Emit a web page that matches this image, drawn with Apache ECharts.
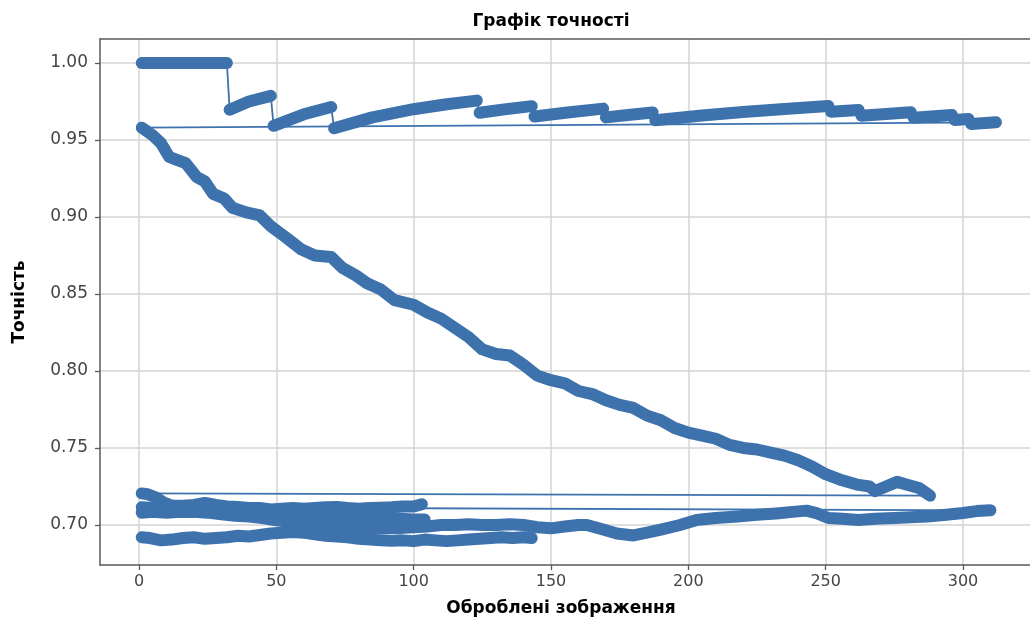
<!DOCTYPE html>
<html><head><meta charset="utf-8">
<script src="https://cdn.jsdelivr.net/npm/echarts@6/dist/echarts.min.js"></script>
<style>html,body{margin:0;padding:0;background:#fff}#c{width:1030px;height:617px}</style>
</head><body><div id="c"></div>
<script>
// ---- tick labels ----
const xTicks = [0, 50, 100, 150, 200, 250, 300];
const yTicks = [0.70, 0.75, 0.80, 0.85, 0.90, 0.95, 1.00];

// ---- run A (top sawtooth), split where it drops ----
const runA = [
  [[1,1.0],[32,1.0]],
  [[33,0.9697],[40,0.9750],[48,0.9787]],
  [[49,0.9592],[60,0.9667],[70,0.9714]],
  [[71,0.9577],[85,0.9647],[100,0.9700],[112,0.9732],[123,0.9756]],
  [[124,0.9677],[133,0.9699],[143,0.9720]],
  [[144,0.9653],[156,0.9679],[169,0.9704]],
  [[170,0.9647],[178,0.9663],[187,0.9679]],
  [[188,0.9628],[205,0.9659],[220,0.9682],[235,0.9702],[251,0.9721]],
  [[252,0.9683],[262,0.9695]],
  [[263,0.9658],[272,0.9669],[281,0.9680]],
  [[282,0.9645],[296,0.9662]],
  [[297,0.9630],[302,0.9636]],
  [[303,0.9604],[312,0.9615]]
];

// ---- run B (long decline) ----
const runB = [
  [1,0.958],[5,0.953],[8,0.948],[11,0.939],[14,0.937],[17,0.935],[21,0.926],[24,0.923],
  [27,0.915],[31,0.912],[34,0.906],[39,0.903],[44,0.901],[48,0.894],[54,0.886],[59,0.879],
  [64,0.875],[70,0.874],[74,0.867],[79,0.862],[83,0.857],[88,0.853],[93,0.846],[100,0.843],
  [105,0.838],[110,0.834],[115,0.828],[120,0.822],[125,0.814],[130,0.811],[135,0.810],
  [140,0.804],[145,0.797],[150,0.794],[155,0.792],[160,0.787],[165,0.785],[170,0.781],
  [175,0.778],[180,0.776],[185,0.771],[190,0.768],[195,0.763],[200,0.760],[205,0.758],
  [210,0.756],[215,0.752],[220,0.750],[225,0.749],[230,0.747],[235,0.745],[240,0.742],
  [245,0.738],[250,0.733],[256,0.729],[262,0.726],[266,0.725],[268,0.722],[272,0.725],
  [276,0.728],[280,0.726],[284,0.724],[288,0.719]
];

// ---- lower runs ----
const runP = [
  [1,0.7205],[3,0.720],[6,0.718],[9,0.7145],[12,0.7125],[16,0.7125],[20,0.713],[24,0.7143],
  [28,0.713],[32,0.712],[36,0.7117],[40,0.711],[44,0.711],[48,0.710],[52,0.7105],[56,0.711],
  [60,0.7105],[64,0.711],[68,0.7115],[72,0.7117],[76,0.711],[80,0.7105],[84,0.711],
  [88,0.7112],[92,0.7115],[96,0.712],[100,0.712],[103,0.7135]
];
const runS = [
  [1,0.7115],[5,0.711],[10,0.7105],[15,0.711],[20,0.7105],[25,0.710],[30,0.709],[35,0.708],
  [40,0.7075],[45,0.707],[50,0.7065],[55,0.706],[60,0.705],[65,0.7045],[70,0.705],[75,0.7045],
  [80,0.704],[85,0.7045],[90,0.7045],[95,0.704],[100,0.7035],[104,0.7035]
];
const runQ = [
  [1,0.708],[5,0.7085],[10,0.708],[15,0.7085],[20,0.7085],[25,0.708],[30,0.707],[35,0.706],
  [40,0.7055],[45,0.7045],[50,0.703],[55,0.702],[60,0.7005],[65,0.700],[70,0.699],[75,0.698],
  [80,0.698],[85,0.6975],[90,0.698],[95,0.698],[100,0.6985],[105,0.699],[110,0.700],
  [115,0.700],[120,0.7005],[125,0.700],[130,0.700],[135,0.7005],[140,0.700],[145,0.6985],
  [150,0.6978],[155,0.699],[160,0.700],[163,0.700],[168,0.6975],[174,0.6945],[180,0.6932],
  [185,0.695],[190,0.697],[197,0.700],[203,0.7032],[210,0.7045],[218,0.7055],[225,0.7066],
  [232,0.7075],[238,0.7085],[243,0.7093],[247,0.7075],[251,0.7045],[256,0.704],[262,0.7032],
  [268,0.704],[275,0.7045],[281,0.705],[287,0.7055],[293,0.7065],[300,0.7078],[305,0.709],
  [310,0.7095]
];
const runR = [
  [1,0.692],[4,0.6915],[8,0.690],[12,0.6905],[16,0.6915],[20,0.692],[24,0.691],[28,0.6915],
  [32,0.692],[36,0.693],[40,0.6925],[44,0.6935],[48,0.6945],[52,0.695],[56,0.6955],[60,0.695],
  [64,0.694],[68,0.693],[72,0.6925],[76,0.692],[80,0.691],[84,0.6905],[88,0.690],[92,0.6898],
  [96,0.690],[100,0.6895],[104,0.6905],[108,0.690],[112,0.6895],[116,0.690],[120,0.6905],
  [124,0.691],[128,0.6915],[132,0.692],[136,0.6915],[140,0.692],[143,0.6915]
];

// ---- thin connecting lines between runs ----
const connectors = [
  [[312,0.9615],[1,0.958]],
  [[288,0.719],[1,0.7205]],
  [[310,0.7095],[1,0.7115]]
];

const COLOR = '#3d72ad';
const series = [];
function thin(data){ series.push({type:'line', data, symbol:'none', silent:true, animation:false,
  lineStyle:{color:COLOR, width:1.8}, z:2}); }
function thick(data){ series.push({type:'line', data, symbol:'none', silent:true, animation:false,
  lineStyle:{color:COLOR, width:12, cap:'round', join:'round'}, z:3}); }

connectors.forEach(thin);
for (let i = 0; i + 1 < runA.length; i++) {
  const a = runA[i][runA[i].length - 1], b = runA[i + 1][0];
  thin([a, b]);
}
runA.forEach(thick);
[runB, runP, runS, runQ, runR].forEach(thick);

const font = "'DejaVu Sans', sans-serif";
const chart = echarts.init(document.getElementById('c'), null, {renderer:'canvas'});
chart.setOption({
  animation: false,
  title: [
    {text:'Графік точності', left:546, top:8, textAlign:'center',
     textStyle:{fontFamily:font, fontWeight:'bold', fontSize:17, color:'#000'}},
    {text:'Оброблені зображення', left:556, top:595, textAlign:'center',
     textStyle:{fontFamily:font, fontWeight:'bold', fontSize:17, color:'#000'}}
  ],
  grid: {left:100, top:39, right:0, bottom:52, containLabel:false},
  xAxis: [{
    type:'value', min:-14.2, max:324.4, splitNumber:7,
    axisLine:{show:true, onZero:false, lineStyle:{color:'#5a5a5a', width:1.5}},
    axisTick:{show:true, length:5, inside:false, customValues:xTicks, lineStyle:{color:'#5a5a5a', width:1.3}},
    axisLabel:{customValues:xTicks, margin:9,
      fontFamily:font, fontSize:16, color:'#444'},
    splitLine:{show:true, lineStyle:{color:'#d4d4d4', width:1.5}}
  },{
    type:'value', position:'top', min:-14.2, max:324.4,
    axisLine:{show:true, onZero:false, lineStyle:{color:'#5a5a5a', width:1.5}},
    axisTick:{show:false}, axisLabel:{show:false}, splitLine:{show:false}
  }],
  yAxis: {
    type:'value', min:0.674, max:1.0156, splitNumber:7,
    name:'Точність', nameLocation:'middle', nameGap:72,
    nameTextStyle:{fontFamily:font, fontWeight:'bold', fontSize:17, color:'#000'},
    axisLine:{show:true, onZero:false, lineStyle:{color:'#5a5a5a', width:1.5}},
    axisTick:{show:true, length:5, inside:false, customValues:yTicks, lineStyle:{color:'#5a5a5a', width:1.3}},
    axisLabel:{customValues:yTicks, margin:12,
      fontFamily:font, fontSize:17, color:'#444', formatter: v => Number(v).toFixed(2)},
    splitLine:{show:true, lineStyle:{color:'#d4d4d4', width:1.5}}
  },
  series
});
</script></body></html>
